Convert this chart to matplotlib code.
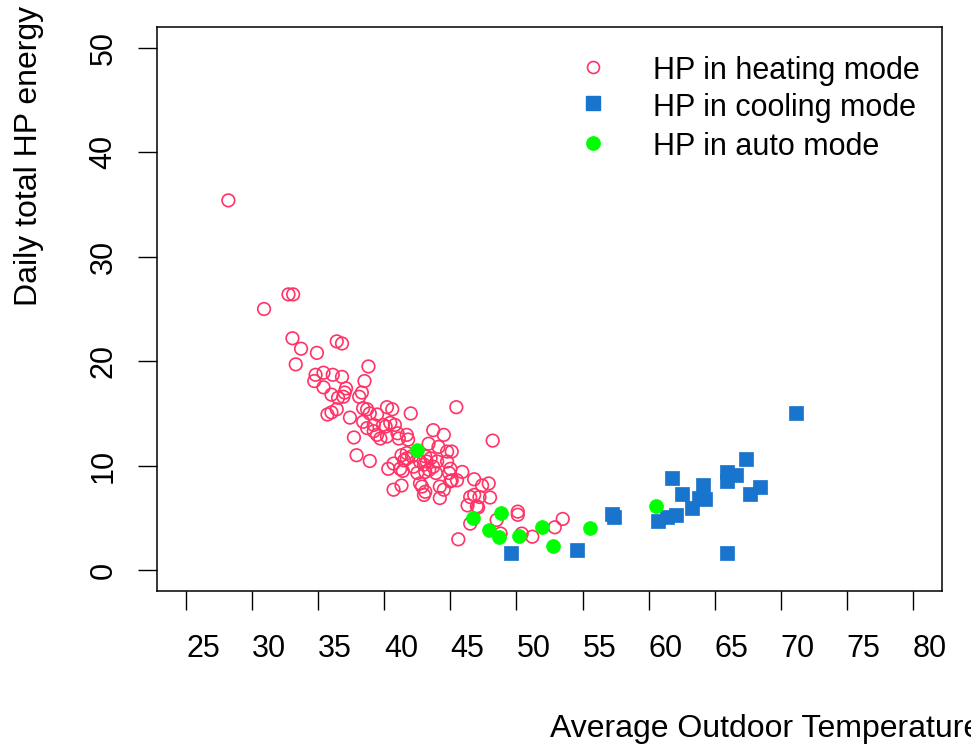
import matplotlib
matplotlib.use('Agg')
import matplotlib.pyplot as plt

plt.rcParams['font.family'] = ['Liberation Sans', 'DejaVu Sans']

# HP in heating mode (open circles)
heat_x = [28.2, 30.9, 32.75, 33.1, 33.05, 33.7, 34.9, 36.4, 36.8, 33.3,
          34.8, 35.4, 36.1, 36.8, 34.7, 35.4, 38.8, 38.5, 37.1, 37.0,
          36.0, 36.5, 36.9, 38.3, 38.1, 35.7, 36.0, 36.4, 37.4, 38.4,
          38.7, 37.7, 38.9, 39.45, 40.2, 40.6, 42.0, 45.45, 38.4, 38.7,
          39.2, 39.7, 40.1, 40.45, 40.8, 41.0, 41.7, 41.8, 43.7, 44.5,
          43.35, 44.1, 48.2, 37.9, 38.9, 40.3, 40.7, 41.3, 41.7, 41.4,
          43.0, 43.2, 43.7, 43.1, 42.7, 43.0, 41.3, 40.7, 44.75, 45.1,
          44.75, 45.0, 45.9, 45.5, 45.1, 44.2, 44.5, 44.2, 46.8, 47.4,
          47.9, 48.0, 46.5, 46.8, 46.3, 47.1, 46.5, 45.6, 48.5, 48.8,
          50.1, 50.1, 50.4, 51.2, 52.9, 53.5, 39.2, 39.9, 39.45, 40.2,
          41.1, 41.7, 42.1, 41.5, 42.7, 43.1, 43.5, 44.0, 41.2, 42.2,
          42.5, 43.4, 43.9, 44.9, 42.85, 43.1, 45.0, 47.2, 47.0]
heat_y = [35.4, 25.0, 26.4, 26.4, 22.2, 21.2, 20.8, 21.9, 21.7, 19.7,
          18.7, 18.9, 18.7, 18.5, 18.1, 17.5, 19.5, 18.1, 17.4, 17.0,
          16.8, 16.5, 16.6, 17.0, 16.6, 14.9, 15.1, 15.4, 14.6, 15.5,
          15.4, 12.7, 15.0, 14.9, 15.6, 15.4, 15.0, 15.6, 14.2, 13.6,
          13.3, 12.6, 13.75, 14.1, 13.9, 13.1, 12.95, 12.5, 13.4, 12.95,
          12.1, 11.8, 12.4, 11.0, 10.45, 9.7, 10.2, 11.0, 10.7, 9.5,
          10.1, 10.4, 9.9, 9.4, 8.3, 7.2, 8.1, 7.7, 11.35, 11.35,
          10.4, 9.7, 9.4, 8.6, 8.6, 8.0, 7.7, 6.9, 8.7, 8.1,
          8.3, 6.95, 7.0, 7.2, 6.2, 6.0, 4.45, 2.95, 4.8, 3.5,
          5.6, 5.3, 3.5, 3.2, 4.1, 4.9, 13.9, 13.9, 12.95, 12.8,
          12.6, 11.2, 10.9, 10.5, 10.4, 10.9, 10.7, 10.4, 9.7, 9.9,
          9.3, 9.6, 9.3, 9.3, 8.0, 7.5, 8.5, 7.0, 6.1]

# HP in cooling mode (filled squares)
cool_x = [49.6, 54.6, 57.2, 57.4, 60.7, 61.4, 62.05, 61.75, 62.55, 63.25,
          64.15, 64.3, 63.8, 65.9, 66.6, 65.95, 67.35, 67.65, 68.4, 65.95, 71.15]
cool_y = [1.65, 1.95, 5.4, 5.1, 4.7, 5.1, 5.3, 8.8, 7.25, 5.9,
          8.15, 6.85, 6.9, 9.35, 9.15, 8.55, 10.6, 7.25, 8.0, 1.65, 15.0]

# HP in auto mode (filled circles)
auto_x = [42.5, 46.7, 48.8, 47.9, 48.65, 50.2, 51.9, 52.8, 55.55, 60.55]
auto_y = [11.5, 4.95, 5.5, 3.8, 3.2, 3.25, 4.15, 2.3, 4.0, 6.1]

x_ticks = [25, 30, 35, 40, 45, 50, 55, 60, 65, 70, 75, 80]
y_ticks = [0, 10, 20, 30, 40, 50]

heat_col = '#FF3366'
cool_col = '#1874CD'
auto_col = '#00FF00'

fig = plt.figure(figsize=(9.71, 7.46), dpi=100)
ax = fig.add_axes([157/971, 1 - 591/746, 785/971, 564/746])

ax.scatter(heat_x, heat_y, s=82, marker='o', facecolors='none',
           edgecolors=heat_col, linewidths=1.2)
ax.scatter(cool_x, cool_y, s=100, marker='s', color=cool_col, linewidths=0.5)
ax.scatter(auto_x, auto_y, s=100, marker='o', color=auto_col, linewidths=0.5)

ax.set_xlim(22.8, 82.2)
ax.set_ylim(-2, 52)

for sp in ax.spines.values():
    sp.set_linewidth(1.1)

ax.set_xticks(x_ticks)
ax.set_xticklabels([str(t) for t in x_ticks], ha='left')
ax.set_yticks(y_ticks)
ax.set_yticklabels([str(t) for t in y_ticks], rotation=90, va='center')
ax.tick_params(axis='both', direction='out', length=13.7, width=1.0,
               labelsize=22)
ax.tick_params(axis='x', pad=17.5)
ax.tick_params(axis='y', pad=14)

# legend drawn by hand to place it like the original
leg_cols = [heat_col, cool_col, auto_col]
leg_labels = ['HP in heating mode', 'HP in cooling mode', 'HP in auto mode']
leg_marker_y = [0.929, 0.865, 0.794]
leg_text_y = [0.908, 0.842, 0.773]
ax.plot([0.5554], [leg_marker_y[0]], 'o', ms=8.6, mfc='none', mec=heat_col,
        mew=1.2, transform=ax.transAxes, clip_on=False)
ax.plot([0.5554], [leg_marker_y[1]], 's', ms=9.6, color=cool_col,
        transform=ax.transAxes, clip_on=False)
ax.plot([0.5554], [leg_marker_y[2]], 'o', ms=9.6, color=auto_col,
        transform=ax.transAxes, clip_on=False)
for lab, ty in zip(leg_labels, leg_text_y):
    ax.text(0.6318, ty, lab, transform=ax.transAxes, fontsize=22,
            ha='left', va='baseline')

fig.text(550/971, 1 - 737/746, 'Average Outdoor Temperature', fontsize=23,
         ha='left', va='baseline')
fig.text(37/971, 1 - 306/746, 'Daily total HP energy', fontsize=23,
         rotation=90, rotation_mode='anchor', ha='left', va='baseline')

fig.savefig('out.png', dpi=100)
